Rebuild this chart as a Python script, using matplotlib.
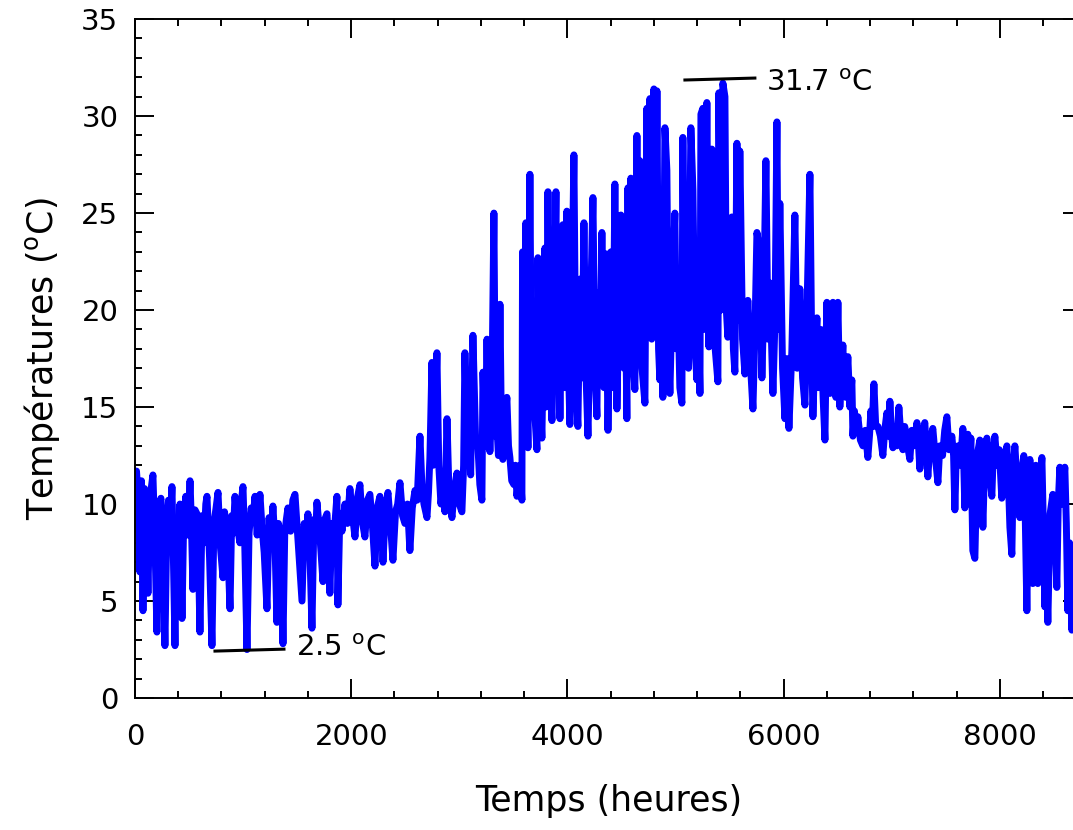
import numpy as np
import matplotlib.pyplot as plt
from matplotlib.ticker import MultipleLocator

# hourly temperature trace (peaks, troughs and band)
winter_hours = [0, 14, 28, 45, 60, 74, 88, 102, 120, 135, 150, 166, 185, 203,
                220, 240, 258, 277, 295, 310, 325, 342, 356, 370, 385, 400,
                416, 435, 450, 470, 490, 509, 522, 536, 555, 573, 588, 601,
                620, 640, 655, 666, 690, 712, 730, 750, 768, 790, 814, 828,
                842, 860, 879, 895, 910, 925, 948, 971, 985, 999, 1015, 1036,
                1055, 1075, 1091, 1110, 1130, 1156, 1175, 1195, 1221, 1240,
                1258, 1276, 1295, 1313, 1327, 1341, 1355, 1369, 1385, 1400,
                1415, 1440, 1460, 1480, 1510, 1545, 1565, 1585, 1600, 1618,
                1637, 1655, 1670, 1683, 1710, 1739, 1755, 1776, 1790, 1803,
                1820, 1840, 1868, 1877, 1895, 1915, 1942, 1965, 1988, 2010,
                2035, 2060, 2081]
winter_temps = [8.7, 11.7, 10.5, 6.5, 11.2, 4.5, 10.8, 10.0, 5.4, 9.5, 10.8,
                11.5, 8.0, 3.4, 9.8, 10.3, 7.5, 2.7, 9.0, 10.2, 8.6, 10.9,
                7.0, 2.7, 9.2, 8.0, 10.0, 4.1, 9.0, 10.4, 8.4, 11.2, 9.0, 5.6,
                9.7, 9.5, 7.0, 3.4, 9.4, 8.0, 10.0, 10.4, 7.2, 2.7, 9.0, 9.8,
                10.6, 7.8, 6.2, 9.6, 9.0, 7.5, 4.6, 9.4, 8.5, 10.4, 8.8, 8.0,
                10.2, 10.9, 8.0, 2.5, 8.5, 9.8, 9.1, 10.4, 8.4, 10.5, 8.8,
                7.5, 4.6, 9.3, 8.0, 9.9, 8.0, 3.9, 9.0, 8.5, 7.0, 2.8, 8.4,
                9.2, 9.8, 8.6, 10.2, 10.5, 8.0, 5.0, 9.0, 8.2, 9.5, 7.5, 3.6,
                9.2, 8.2, 10.1, 8.4, 6.0, 9.2, 9.5, 8.0, 5.4, 9.0, 8.3, 10.4,
                4.8, 9.5, 8.6, 10.0, 9.0, 10.8, 9.5, 8.3, 10.4, 11.0]

spring_hours = [2100, 2127, 2150, 2173, 2195, 2220, 2240, 2266, 2280, 2294,
                2315, 2340, 2360, 2386, 2410, 2430, 2451, 2475, 2497, 2520,
                2543, 2565, 2590, 2610, 2636, 2655, 2673, 2701, 2715, 2728,
                2747, 2760, 2775, 2793, 2810, 2830, 2850, 2867, 2886, 2905,
                2932, 2955, 2978, 3000, 3024, 3040, 3052, 3070, 3089, 3105,
                3126, 3150, 3173, 3190, 3209, 3219, 3240, 3256, 3270, 3283,
                3300, 3320, 3335, 3348, 3362, 3376, 3390, 3403, 3420, 3440,
                3455, 3468, 3485, 3505, 3520, 3533, 3550, 3561, 3579]
spring_temps = [9.2, 8.3, 10.2, 10.5, 9.0, 6.8, 9.8, 10.4, 9.0, 7.0, 9.6,
                10.6, 9.2, 7.1, 9.6, 10.0, 11.1, 9.4, 9.0, 10.0, 7.6, 9.8,
                10.7, 10.2, 13.5, 10.8, 10.0, 9.3, 10.6, 12.4, 17.3, 12.0,
                14.0, 17.8, 12.0, 10.0, 11.0, 9.6, 14.4, 10.5, 9.3, 10.8,
                11.6, 10.0, 9.6, 12.0, 17.8, 12.8, 14.0, 11.5, 18.7, 13.5,
                12.9, 11.0, 10.2, 16.8, 13.0, 18.5, 14.5, 12.7, 15.0, 25.0,
                13.5, 14.0, 12.5, 20.3, 13.5, 12.3, 14.2, 15.5, 13.0, 12.4,
                11.2, 11.0, 12.0, 10.4, 11.4, 12.0, 10.2]

summer_hours = [3585, 3598, 3607, 3616, 3625, 3635, 3644, 3653, 3667, 3681,
                3700, 3718, 3727, 3745, 3764, 3778, 3792, 3801, 3810, 3820,
                3838, 3857, 3875, 3894, 3903, 3912, 3931, 3945, 3958, 3977,
                3995, 4010, 4023, 4040, 4060, 4078, 4097, 4116, 4135, 4153,
                4170, 4190, 4212, 4236, 4255, 4273, 4282, 4300, 4319, 4338,
                4356, 4375, 4402, 4421, 4439, 4458, 4475, 4495, 4510, 4523,
                4537, 4550, 4560, 4573, 4587, 4605, 4624, 4643, 4655, 4670,
                4690, 4717, 4735, 4750, 4763, 4780, 4800, 4815, 4828, 4843,
                4855, 4870, 4883, 4902, 4920, 4935, 4948, 4970, 4994, 5008,
                5022, 5040, 5059, 5068, 5082, 5096, 5120, 5142, 5161, 5180,
                5198, 5212, 5226, 5235, 5253, 5270, 5290, 5309, 5336, 5350,
                5364, 5392, 5401, 5420, 5438, 5457, 5470, 5484, 5500, 5521,
                5535, 5549, 5568, 5580, 5595, 5620, 5642, 5669, 5690, 5716,
                5735, 5753, 5780, 5799, 5815, 5836, 5855, 5873, 5901, 5920,
                5938, 5950, 5965, 5990, 6012, 6030, 6049, 6076, 6104, 6125,
                6150, 6175, 6197, 6243, 6260, 6271, 6290, 6308, 6325, 6345,
                6365, 6382]
summer_temps = [23.0, 14.0, 19.0, 24.5, 16.0, 12.9, 18.5, 27.0, 15.5, 18.0,
                14.5, 12.8, 22.7, 16.0, 13.4, 18.5, 23.2, 15.0, 19.0, 26.1,
                16.5, 14.3, 19.0, 26.1, 17.0, 20.7, 14.4, 19.5, 24.4, 16.0,
                25.1, 17.0, 14.1, 20.0, 28.0, 16.0, 14.0, 21.6, 16.5, 24.5,
                17.0, 13.5, 19.5, 25.8, 17.0, 14.5, 20.9, 16.5, 24.0, 16.0,
                22.9, 13.8, 23.0, 16.0, 26.5, 14.9, 20.0, 24.9, 18.0, 17.0,
                20.5, 14.4, 26.3, 18.0, 26.8, 17.5, 15.9, 29.0, 18.5, 27.7,
                17.0, 15.2, 30.4, 19.0, 30.9, 18.5, 31.4, 19.5, 31.3, 18.0,
                16.4, 20.0, 15.5, 29.4, 27.2, 18.0, 15.7, 21.0, 25.0, 18.0,
                20.5, 16.0, 15.2, 28.9, 18.5, 20.9, 17.0, 29.4, 26.2, 18.0,
                16.4, 19.5, 15.7, 30.1, 30.4, 19.0, 30.7, 18.1, 28.3, 19.5,
                18.2, 16.3, 31.2, 20.0, 31.7, 31.0, 20.0, 18.6, 21.0, 24.8,
                18.0, 16.8, 28.6, 19.5, 28.2, 18.5, 16.7, 20.5, 17.5, 14.9,
                19.0, 24.0, 23.0, 16.5, 20.0, 27.7, 18.5, 21.4, 15.7, 19.5,
                29.7, 19.0, 25.5, 17.0, 14.4, 17.5, 13.9, 17.9, 24.9, 17.0,
                21.1, 16.5, 15.1, 27.0, 18.0, 14.5, 18.0, 19.6, 16.0, 19.0,
                15.5, 13.3]

autumn_hours = [6400, 6414, 6428, 6442, 6456, 6470, 6483, 6502, 6520, 6535,
                6548, 6562, 6576, 6594, 6613, 6631, 6641, 6655, 6670, 6687,
                6710, 6733, 6755, 6779, 6795, 6807, 6820, 6835, 6852, 6872,
                6895, 6918, 6935, 6955, 6970, 6983, 7000, 7011, 7030, 7048,
                7066, 7085, 7103, 7120, 7140, 7168, 7185, 7205, 7233, 7248,
                7260, 7280, 7306, 7320, 7334, 7355, 7380, 7400, 7427, 7445,
                7470, 7490, 7510, 7530, 7556, 7572, 7584, 7598, 7612, 7635,
                7658, 7676, 7690, 7704, 7720, 7732, 7750, 7769, 7790, 7815,
                7830, 7843, 7862, 7880, 7900, 7926, 7940, 7954, 7975, 7995,
                8018, 8040, 8065, 8080, 8093, 8111, 8125, 8139, 8160, 8185,
                8205, 8222, 8236, 8250, 8264, 8278, 8292, 8305, 8320, 8333,
                8342, 8351, 8370, 8389, 8402, 8416, 8430, 8444, 8465, 8490,
                8510, 8527, 8540, 8555, 8575, 8601, 8615, 8629, 8645, 8666,
                8690, 8720, 8760]
autumn_temps = [20.4, 16.5, 15.7, 19.0, 20.4, 17.0, 15.5, 20.4, 15.0, 17.0,
                18.2, 15.8, 15.5, 17.6, 15.0, 16.4, 13.5, 14.8, 13.8, 14.5,
                13.3, 13.0, 13.8, 12.4, 13.6, 14.8, 14.0, 16.2, 14.0, 14.0,
                13.5, 12.5, 13.8, 14.7, 13.5, 15.3, 13.5, 12.9, 14.0, 13.0,
                15.0, 13.5, 12.8, 14.0, 13.2, 12.3, 13.8, 13.0, 14.2, 13.0,
                11.8, 13.5, 14.2, 12.8, 11.4, 13.2, 13.9, 12.6, 11.1, 13.0,
                12.5, 13.8, 14.5, 12.8, 13.5, 12.5, 9.7, 12.8, 13.0, 12.0,
                13.9, 9.8, 12.9, 13.6, 12.0, 13.4, 7.6, 7.2, 12.5, 13.3,
                11.5, 8.8, 12.6, 13.4, 11.8, 10.4, 12.8, 13.5, 12.0, 12.8,
                10.3, 12.2, 13.0, 11.0, 8.8, 7.4, 12.0, 13.0, 11.0, 9.3,
                11.8, 12.5, 9.0, 4.5, 10.5, 12.3, 9.0, 5.9, 11.0, 12.0,
                8.0, 5.9, 10.8, 12.4, 9.0, 4.7, 7.0, 3.9, 9.5, 10.5,
                8.5, 5.7, 10.0, 11.9, 10.0, 11.9, 9.0, 4.5, 8.0, 3.5,
                7.5, 9.0, 8.0]

t_min, t_min_at = 2.5, 1036
t_max, t_max_at = 31.7, 5438

hours = np.array(winter_hours + spring_hours + summer_hours + autumn_hours)
temps = np.array(winter_temps + spring_temps + summer_temps + autumn_temps)

plt.rcParams['font.family'] = ['DejaVu Sans']

fig = plt.figure(figsize=(10.73, 8.30), dpi=100)
ax = fig.add_axes([0.1258, 0.159, 0.8826, 0.818])

ax.plot(hours, temps, color='#0000ff', lw=5, solid_joinstyle='round')

# min / max markers
ax.plot([t_min_at - 296, t_min_at + 342], [t_min - 0.08, t_min + 0.02], color='black', lw=2.2)
ax.text(t_min_at + 450, t_min + 0.1, '%.1f $^{\\mathregular{o}}$C' % t_min, fontsize=21, va='center')
ax.plot([t_max_at - 351, t_max_at + 296], [t_max + 0.16, t_max + 0.26], color='black', lw=2.2)
ax.text(t_max_at + 400, t_max, '%.1f $^{\\mathregular{o}}$C' % t_max, fontsize=21, va='center')

ax.set_xlim(0, 8760)
ax.set_ylim(0, 35)
ax.xaxis.set_major_locator(MultipleLocator(2000))
ax.xaxis.set_minor_locator(MultipleLocator(400))
ax.yaxis.set_major_locator(MultipleLocator(5))
ax.yaxis.set_minor_locator(MultipleLocator(1))
ax.tick_params(which='both', direction='in', top=True, right=True, width=1.4, labelsize=21)
ax.tick_params(which='major', length=14)
ax.tick_params(which='minor', length=5)
ax.tick_params(axis='x', pad=18)
ax.tick_params(axis='y', pad=12)
for s in ax.spines.values():
    s.set_linewidth(1.4)

ax.set_xlabel('Temps (heures)', fontsize=25, labelpad=24)
ax.set_ylabel('Températures ($^{\\mathregular{o}}$C)', fontsize=25, labelpad=14)

fig.savefig('out.png', dpi=100)
